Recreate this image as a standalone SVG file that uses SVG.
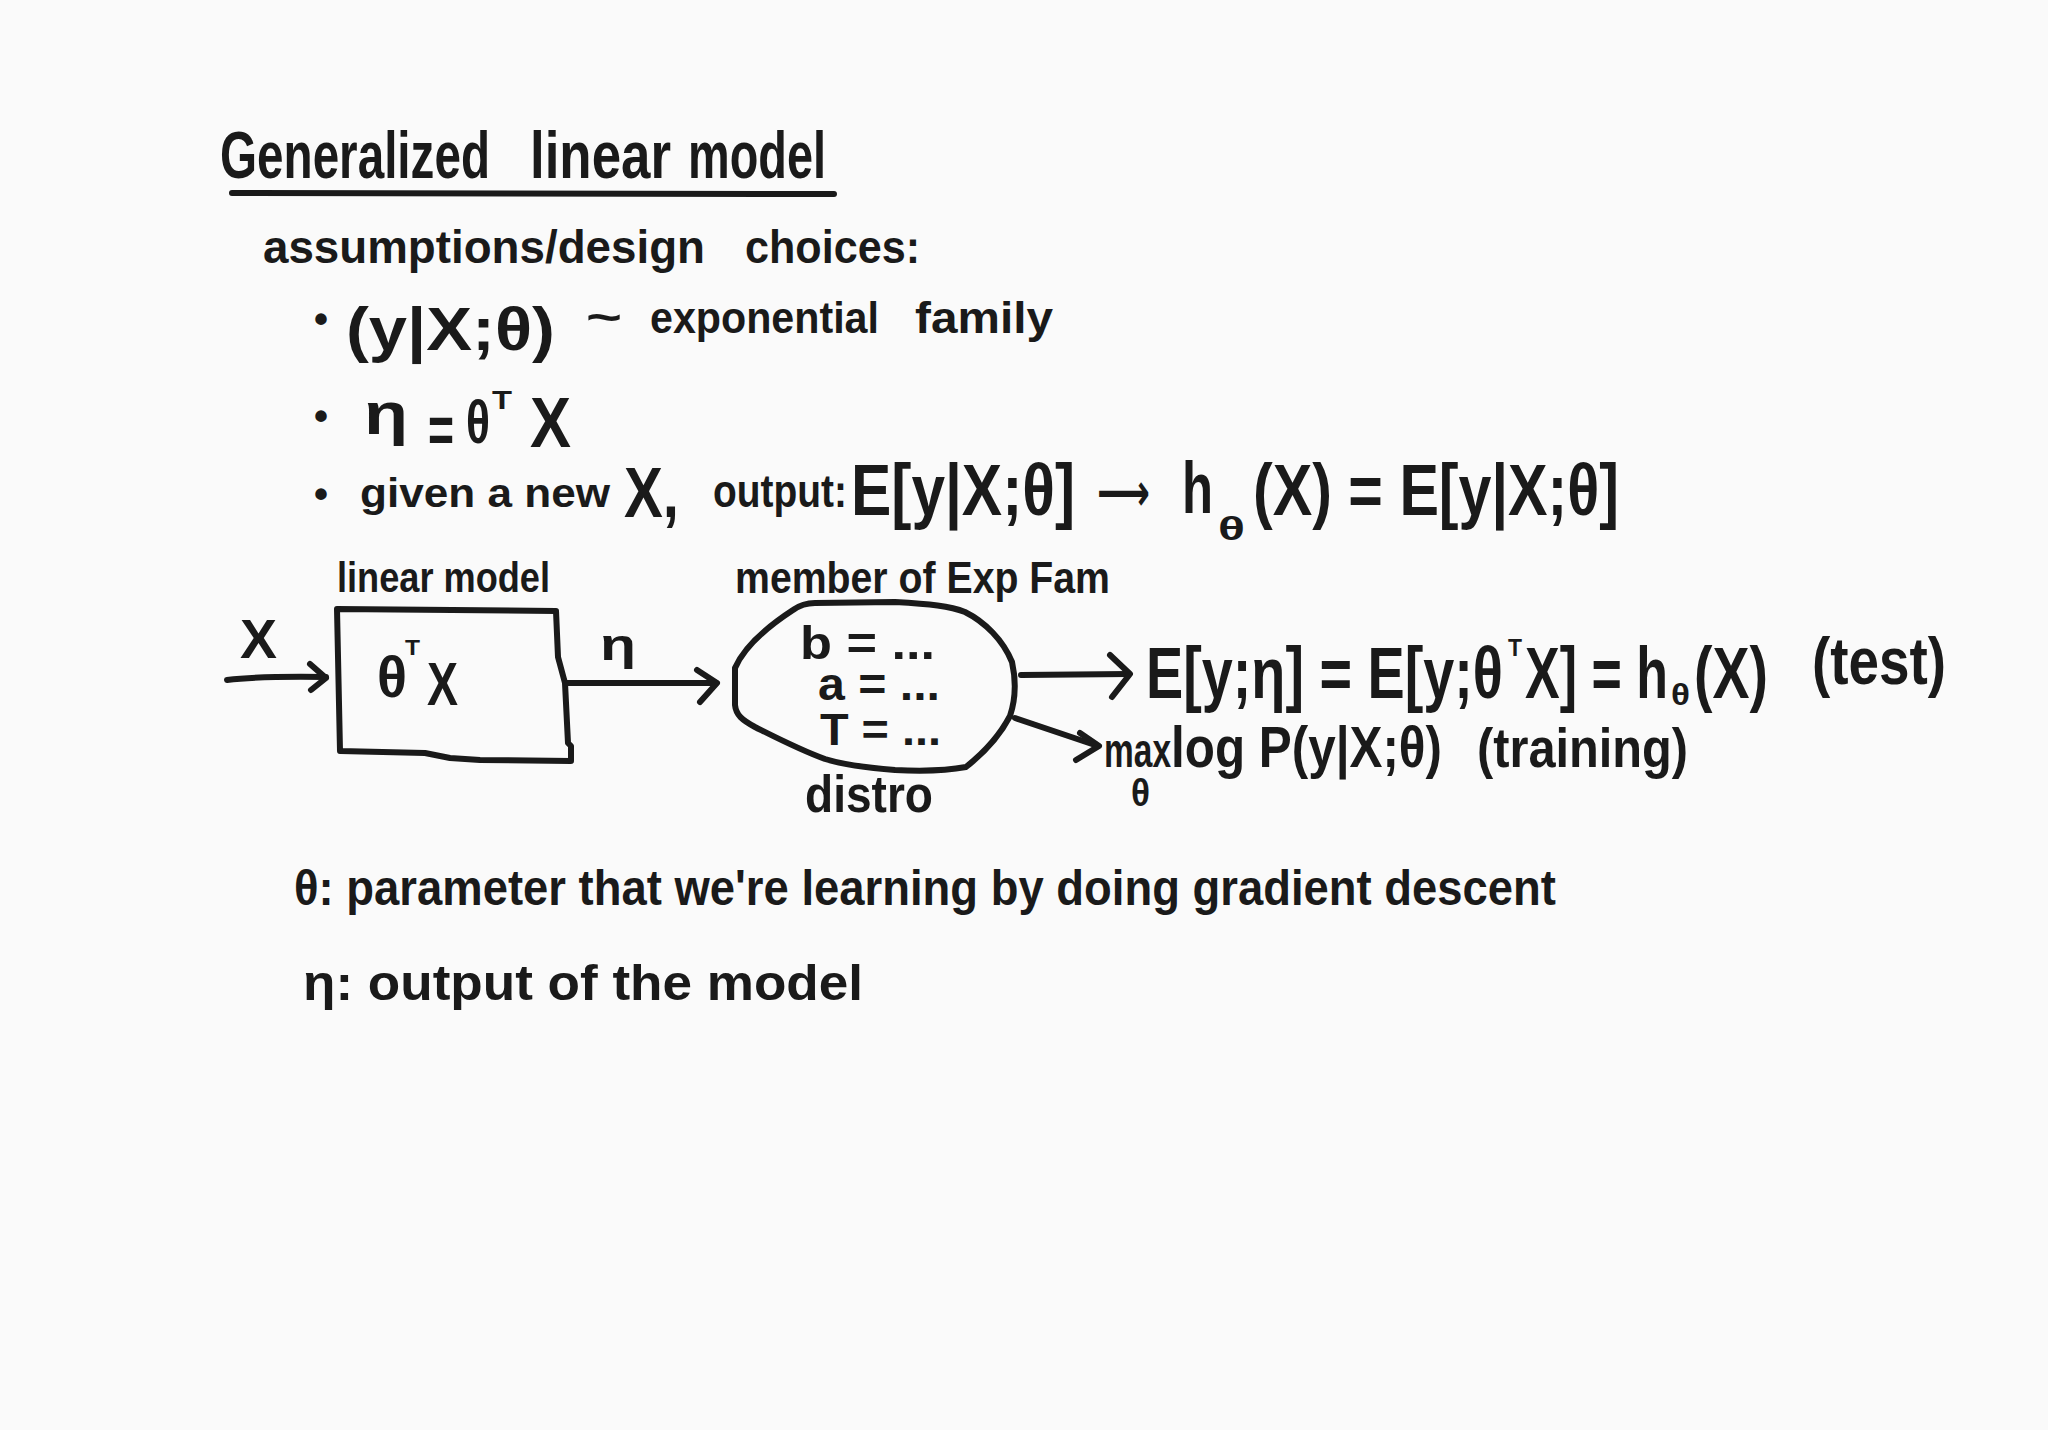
<svg xmlns="http://www.w3.org/2000/svg" width="2048" height="1430" viewBox="0 0 2048 1430">
<defs>
<style>
.t{font-family:"Liberation Sans",Arial,sans-serif;font-weight:bold;fill:#1a1a1a}
.ln{fill:none;stroke:#1a1a1a;stroke-width:6;stroke-linecap:round;stroke-linejoin:round}
</style>
</defs>
<rect x="0" y="0" width="2048" height="1430" fill="#fafafa"/>
<g id="title">
<text class="t" font-size="66" y="178"><tspan x="220" textLength="270" lengthAdjust="spacingAndGlyphs">Generalized</tspan><tspan x="530" textLength="141" lengthAdjust="spacingAndGlyphs">linear</tspan><tspan x="688" textLength="138" lengthAdjust="spacingAndGlyphs">model</tspan></text>
<path class="ln" d="M232,193 L834,194" stroke-width="7"/>
</g>
<g id="assumptions">
<text class="t" font-size="46" y="263"><tspan x="263" textLength="442" lengthAdjust="spacingAndGlyphs">assumptions/design</tspan><tspan x="745" textLength="175" lengthAdjust="spacingAndGlyphs">choices:</tspan></text>
</g>
<g id="bullet1">
<text class="t"><tspan x="314" y="333" font-size="40">•</tspan><tspan x="346" y="350" font-size="62" textLength="209" lengthAdjust="spacingAndGlyphs">(y|X;θ)</tspan><tspan x="586" y="332" font-size="44" textLength="36" lengthAdjust="spacingAndGlyphs">~</tspan><tspan x="650" y="333" font-size="44" textLength="229" lengthAdjust="spacingAndGlyphs">exponential</tspan><tspan x="915" y="333" font-size="44" textLength="138" lengthAdjust="spacingAndGlyphs">family</tspan></text>
</g>
<g id="bullet2">
<text class="t"><tspan x="314" y="430" font-size="40">•</tspan><tspan x="364" y="434" font-size="60" textLength="44" lengthAdjust="spacingAndGlyphs">η</tspan><tspan x="428" y="453" font-size="66" textLength="26" lengthAdjust="spacingAndGlyphs">=</tspan><tspan x="466" y="443" font-size="62" textLength="24" lengthAdjust="spacingAndGlyphs">θ</tspan><tspan x="492" y="409" font-size="26" textLength="20" lengthAdjust="spacingAndGlyphs">T</tspan><tspan x="530" y="447" font-size="70" textLength="41" lengthAdjust="spacingAndGlyphs">X</tspan></text>
</g>
<g id="bullet3">
<text class="t"><tspan x="314" y="508" font-size="40">•</tspan><tspan x="360" y="507" font-size="40" textLength="250" lengthAdjust="spacingAndGlyphs">given a new</tspan><tspan x="624" y="517" font-size="70" textLength="55" lengthAdjust="spacingAndGlyphs">X,</tspan><tspan x="713" y="507" font-size="46" textLength="134" lengthAdjust="spacingAndGlyphs">output:</tspan><tspan x="851" y="515" font-size="72" textLength="224" lengthAdjust="spacingAndGlyphs">E[y|X;θ]</tspan><tspan x="1097" y="510" font-size="52" font-family="'DejaVu Sans', sans-serif" textLength="53" lengthAdjust="spacingAndGlyphs">⟶</tspan><tspan x="1182" y="513" font-size="72" textLength="31" lengthAdjust="spacingAndGlyphs">h</tspan><tspan x="1218" y="540" font-size="34" textLength="27" lengthAdjust="spacingAndGlyphs">θ</tspan><tspan x="1253" y="515" font-size="72" textLength="366" lengthAdjust="spacingAndGlyphs">(X) = E[y|X;θ]</tspan></text>
</g>
<g id="input-label">
<text class="t" x="240" y="658" font-size="56" textLength="37" lengthAdjust="spacingAndGlyphs">X</text>
</g>
<g id="linear-model">
<text class="t" x="337" y="592" font-size="42" textLength="213" lengthAdjust="spacingAndGlyphs">linear model</text>
<path class="ln" d="M337,609 L556,611 L558,657 L565,683 L568,743 L571,746 L571,761 L480,760 L450,758 L425,753 L340,751 Z"/>
<text class="t"><tspan x="377" y="697" font-size="58" textLength="30" lengthAdjust="spacingAndGlyphs">θ</tspan><tspan x="405" y="655" font-size="22" textLength="15" lengthAdjust="spacingAndGlyphs">T</tspan><tspan x="427" y="705" font-size="62" textLength="31" lengthAdjust="spacingAndGlyphs">X</tspan></text>
</g>
<g id="eta-label">
<text class="t" x="600" y="660" font-size="44" textLength="36" lengthAdjust="spacingAndGlyphs">η</text>
</g>
<g id="distro">
<text class="t" x="735" y="593" font-size="44" textLength="375" lengthAdjust="spacingAndGlyphs">member of Exp Fam</text>
<path class="ln" d="M735,668 C745,645 770,625 793,610 C800,605 806,603 815,603 L895,602 C930,604 950,606 965,612 C985,622 1003,640 1012,662 C1016,680 1016,698 1010,716 C1000,735 985,752 966,767 C945,771 915,771 895,770 C870,768 845,765 825,759 C800,750 775,737 755,727 C742,720 736,715 735,705 Z"/>
<text class="t" x="800" y="659" font-size="46" textLength="135" lengthAdjust="spacingAndGlyphs">b = ...</text>
<text class="t" x="818" y="700" font-size="46" textLength="122" lengthAdjust="spacingAndGlyphs">a = ...</text>
<text class="t" x="820" y="745" font-size="44" textLength="121" lengthAdjust="spacingAndGlyphs">T = ...</text>
<text class="t" x="805" y="812" font-size="52" textLength="128" lengthAdjust="spacingAndGlyphs">distro</text>
</g>
<g id="test-output">
<text class="t" font-size="72"><tspan x="1146" y="698" textLength="357" lengthAdjust="spacingAndGlyphs">E[y;η] = E[y;θ</tspan><tspan x="1508" y="656" font-size="24" textLength="14" lengthAdjust="spacingAndGlyphs">T</tspan><tspan x="1525" y="698" textLength="143" lengthAdjust="spacingAndGlyphs">X] = h</tspan><tspan x="1671" y="705" font-size="30" textLength="19" lengthAdjust="spacingAndGlyphs">θ</tspan><tspan x="1694" y="698" textLength="74" lengthAdjust="spacingAndGlyphs">(X)</tspan><tspan x="1812" y="684" font-size="66" textLength="134" lengthAdjust="spacingAndGlyphs">(test)</tspan></text>
</g>
<g id="training-output">
<text class="t"><tspan x="1104" y="767" font-size="48" textLength="67" lengthAdjust="spacingAndGlyphs">max</tspan><tspan x="1131" y="806" font-size="38" textLength="19" lengthAdjust="spacingAndGlyphs">θ</tspan><tspan x="1171" y="767" font-size="58" textLength="271" lengthAdjust="spacingAndGlyphs">log P(y|X;θ)</tspan><tspan x="1477" y="767" font-size="56" textLength="211" lengthAdjust="spacingAndGlyphs">(training)</tspan></text>
</g>
<g id="notes">
<text class="t" x="294" y="905" font-size="50" textLength="1262" lengthAdjust="spacingAndGlyphs">θ: parameter that we're learning by doing gradient descent</text>
<text class="t" x="303" y="1000" font-size="50" textLength="560" lengthAdjust="spacingAndGlyphs">η: output of the model</text>
</g>
<g id="connectors">
<path class="ln" d="M227,680 Q260,676 326,677"/>
<path class="ln" d="M310,664 L326,678 L311,690"/>
<path class="ln" d="M567,683 L716,683"/>
<path class="ln" d="M697,670 L717,683 L700,702"/>
<path class="ln" d="M1021,675 L1128,674"/>
<path class="ln" d="M1110,655 L1130,674 L1112,697"/>
<path class="ln" d="M1015,718 L1098,746"/>
<path class="ln" d="M1080,733 L1099,746 L1076,760"/>
</g>
</svg>
